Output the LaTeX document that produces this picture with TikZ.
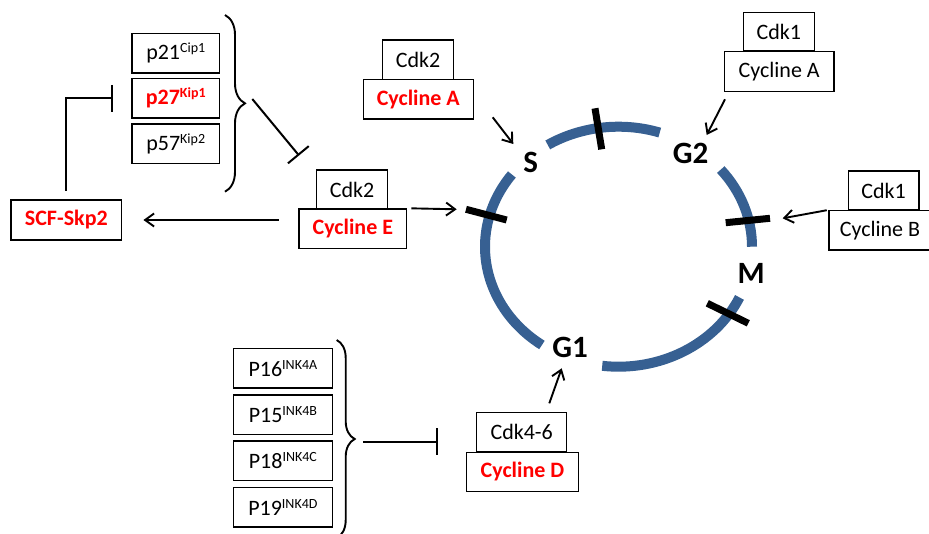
\documentclass[tikz,border=0pt]{standalone}
\usepackage{fontspec}
\setmainfont{Carlito}
\usetikzlibrary{arrows.meta,decorations.pathreplacing,calc}
\definecolor{cycblue}{RGB}{55,96,146}
\definecolor{myred}{RGB}{255,0,0}
\newcommand\supx[1]{\raisebox{7pt}{\fontsize{14}{14}\selectfont #1}}
\begin{document}
\begin{tikzpicture}[x=1pt,y=-1pt,
  bx/.style={draw, line width=1.5pt, inner sep=0pt, fill=white, font=\fontsize{22}{24}\selectfont},
  rbx/.style={bx, text=myred, font=\fontsize{22}{24}\selectfont\bfseries},
  arr/.style={line width=1.9pt, -{Straight Barb[length=9pt,width=13pt]}},
  inh/.style={line width=2pt, -{Bar[width=27pt]}},
  phase/.style={font=\fontsize{31}{31}\selectfont\bfseries, inner sep=0pt},
  cyc/.style={cycblue, line width=10pt},
  chk/.style={line width=7pt, black},
  brc/.style={line width=1.9pt, decorate, decoration={brace, amplitude=#1}}]
\useasboundingbox (0,0) rectangle (929,533);
\clip (0,0) rectangle (929,533);

% cell cycle ellipse
\coordinate (C) at (618.5,246.7);
\draw[cyc] (C) ++(0:133.5 and 120) arc[start angle=0, end angle=-40, x radius=133.5, y radius=120];
\draw[cyc] (C) ++(-72:133.5 and 120) arc[start angle=-72, end angle=-122, x radius=133.5, y radius=120];
\draw[cyc] (C) ++(-143:133.5 and 120) arc[start angle=-143, end angle=-235, x radius=133.5, y radius=120];
\draw[cyc] (C) ++(-263:133.5 and 120) arc[start angle=-263, end angle=-335, x radius=133.5, y radius=120];

% checkpoints
\draw[chk] (595,108.3) -- (601.7,149.3);
\draw[chk] (466,209.3) -- (506.7,220);
\draw[chk] (725.7,222.7) -- (770,218.3);
\draw[chk] (707.3,303.3) -- (748.3,323.3);

% phase labels
\node[phase] (S) at (530.8,162.5) {S};
\node[phase] (G2) at (690.5,153) {G2};
\node[phase] (M) at (751.2,273) {M};
\node[phase] (G1) at (570.2,347.3) {G1};

% CKI boxes (Cip/Kip)
\node[bx, minimum width=87.5pt, minimum height=39.5pt] (p21) at (175.75,53) {p21\supx{Cip1}};
\node[rbx, minimum width=87.5pt, minimum height=39.5pt] (p27) at (175.75,98.3) {p27\supx{Kip1}};
\node[bx, minimum width=87.5pt, minimum height=39.5pt] (p57) at (175.75,143.7) {p57\supx{Kip2}};

% INK4 boxes
\node[bx, minimum width=98.8pt, minimum height=39.5pt] (p16) at (282.9,368.3) {P16\supx{INK4A}};
\node[bx, minimum width=98.8pt, minimum height=39.5pt] (p15) at (282.9,414.5) {P15\supx{INK4B}};
\node[bx, minimum width=98.8pt, minimum height=39.5pt] (p18) at (282.9,460.9) {P18\supx{INK4C}};
\node[bx, minimum width=98.8pt, minimum height=39.5pt] (p19) at (282.9,507) {P19\supx{INK4D}};

% SCF-Skp2
\node[rbx, minimum width=110.7pt, minimum height=40pt] (scf) at (66.35,220) {SCF-Skp2};

% Cdk/cyclin complexes
\node[bx, minimum width=70.6pt, minimum height=39pt] (cdk2E) at (352,189.5) {Cdk2};
\node[rbx, minimum width=107.7pt, minimum height=39.3pt] (cycE) at (352.85,228.65) {Cycline E};

\node[bx, minimum width=70.6pt, minimum height=39.3pt] (cdk2A) at (418,59.65) {Cdk2};
\node[rbx, minimum width=110pt, minimum height=39.7pt] (cycAr) at (418.3,99.15) {Cycline A};

\node[bx, minimum width=71pt, minimum height=38.3pt] (cdk1A) at (778.8,31.85) {Cdk1};
\node[bx, minimum width=109.7pt, minimum height=40pt] (cycAb) at (779.15,71.7) {Cycline A};

\node[bx, minimum width=70.7pt, minimum height=39pt] (cdk1B) at (883.65,190.5) {Cdk1};
\node[bx, minimum width=102pt, minimum height=39.3pt] (cycB) at (880,230.35) {Cycline B};

\node[bx, minimum width=90pt, minimum height=39pt] (cdk46) at (521.7,432.2) {Cdk4-6};
\node[rbx, minimum width=111.6pt, minimum height=39.4pt] (cycD) at (522.5,472) {Cycline D};

% braces
\draw[brc=20pt] (225,15) -- (225,191.7);
\draw[brc=18pt] (336.7,340) -- (336.7,538);

% free ends
\coordinate (braceA) at (252.3,99);
\coordinate (inhE) at (299,155.5);
\coordinate (Sstart) at (492.7,117.3);
\coordinate (Send) at (513.3,144);
\coordinate (chkS) at (456.7,209.3);
\coordinate (G2start) at (725,99.3);
\coordinate (G2end) at (706.7,135);
\coordinate (Mend) at (782.7,218.3);
\coordinate (G1start) at (549.3,403.3);
\coordinate (G1end) at (561.7,368.3);
\coordinate (braceB) at (363.3,441.7);
\coordinate (inhD) at (438.3,441.7);

% connectors
\draw[inh, shorten <=8.3pt, shorten >=18.4pt] (scf.north) |- (p27.west);
\draw[inh] (braceA) -- (inhE);
\draw[arr, shorten <=19.7pt, shorten >=21pt] (scf.east -| cycE.west) -- (scf.east);
\draw[arr, shorten <=4pt] (cycE.north east) -- (chkS);
\draw[arr] (Sstart) -- (Send);
\draw[arr] (G2start) -- (G2end);
\draw[arr, shorten <=1.5pt] (cycB.north west) -- (Mend);
\draw[arr] (G1start) -- (G1end);
\draw[inh] (braceB) -- (inhD);
\end{tikzpicture}
\end{document}
